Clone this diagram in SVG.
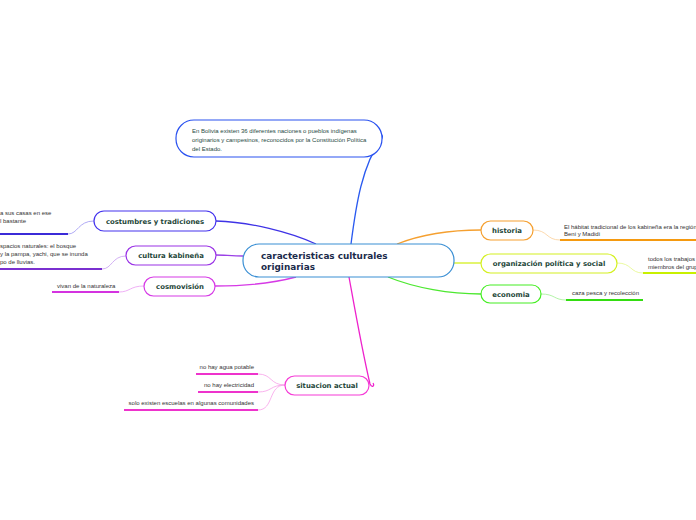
<svg xmlns="http://www.w3.org/2000/svg" width="696" height="520" viewBox="0 0 696 520">
<style>
.node{fill:#fff;stroke-width:1.2}
.t{font-family:"DejaVu Sans",Verdana,sans-serif;font-weight:bold;font-size:6.9px;fill:#1d4638}
.c{font-family:"DejaVu Sans",Verdana,sans-serif;font-weight:bold;font-size:8.9px;fill:#1b2b4b}
.s{font-family:"Liberation Sans",Arial,sans-serif;font-size:6px;fill:#333}
.tp{font-family:"Liberation Sans",Arial,sans-serif;font-size:6px;fill:#1f4a3f}
.l{fill:none;stroke-width:1.3}
.u{fill:none;stroke-width:2}
.th{fill:none;stroke-width:0.8}
</style>
<rect width="696" height="520" fill="#fff"/>
<g id="connectors">
<path class="l" stroke="#2a5af0" d="M351,244 C356,205 362,165 382,138 C384,134 378,132 376,140"/>
<path class="l" stroke="#3f33e6" d="M316,244 C290,232 250,222 216,221"/>
<path class="l" stroke="#9a40e6" d="M243,256 C232,256 224,255 216,255"/>
<path class="l" stroke="#d63ae6" d="M296,277 C270,284 240,286 215,286"/>
<path class="l" stroke="#f5a030" d="M397,244 C420,235 450,230 481,230"/>
<path class="l" stroke="#d4f020" d="M454,263 L481,263"/>
<path class="l" stroke="#4de830" d="M388,277 C415,288 450,294 481,294"/>
<path class="l" stroke="#ee22cc" d="M349,277 C355,310 362,350 370,384 C372,388 375,386 373,383"/>
<path class="th" stroke="#9d96f2" d="M94,221 C78,221 78,234 68,234"/>
<path class="u" stroke="#3b2bd8" d="M0,234 L68,234"/>
<path class="th" stroke="#c79cf0" d="M126,256 C112,256 112,269 102,269"/>
<path class="u" stroke="#7a30d0" d="M0,269 L102,269"/>
<path class="th" stroke="#eb9cf2" d="M144,286 C130,286 130,292 119,292"/>
<path class="u" stroke="#d433e0" d="M52,292 L119,292"/>
<path class="th" stroke="#fbcf98" d="M533,230 C548,230 546,240 560,240"/>
<path class="u" stroke="#f59a10" d="M560,240 L696,240"/>
<path class="th" stroke="#e4f788" d="M617,263 C632,263 630,273 643,273"/>
<path class="u" stroke="#c8f000" d="M643,273 L696,273"/>
<path class="th" stroke="#a0f090" d="M541,294 C555,294 554,300 566,300"/>
<path class="u" stroke="#33dd11" d="M566,300 L643,300"/>
<path class="th" stroke="#f7a0e8" d="M285,385 C270,385 272,374 258,374"/>
<path class="th" stroke="#f7a0e8" d="M285,385 C270,385 272,392 258,392"/>
<path class="th" stroke="#f7a0e8" d="M285,385 C268,385 274,410 258,410"/>
<path class="u" stroke="#ee33cc" d="M196,374 L258,374"/>
<path class="u" stroke="#ee33cc" d="M198,392 L258,392"/>
<path class="u" stroke="#ee33cc" d="M124,410 L258,410"/>
</g>
<g id="center">
<rect class="node" x="243" y="244" width="211" height="33" rx="16" stroke="#3a8fd4"/>
<text class="c" x="261" y="259">caracteristicas culturales</text>
<text class="c" x="261" y="270">originarias</text>
</g>
<g id="estado">
<rect class="node" x="176" y="120" width="206" height="37" rx="18" stroke="#2a52f0"/>
<text class="tp" x="192" y="133">En Bolivia existen 36 diferentes naciones o pueblos indígenas</text>
<text class="tp" x="192" y="142">originarios y campesinos, reconocidos por la Constitución Política</text>
<text class="tp" x="192" y="151">del Estado.</text>
</g>
<g id="costumbres">
<rect class="node" x="94" y="211" width="122" height="20" rx="10" stroke="#4433ee"/>
<text class="t" x="155" y="224" text-anchor="middle">costumbres y tradiciones</text>
<text class="s" x="0" y="215">a sus casas en ese</text>
<text class="s" x="0" y="223">l bastante</text>
</g>
<g id="cultura">
<rect class="node" x="126" y="246" width="90" height="19" rx="9.5" stroke="#9a33e6"/>
<text class="t" x="171" y="258" text-anchor="middle">cultura kabineña</text>
<text class="s" x="0" y="248">spacios naturales: el bosque</text>
<text class="s" x="0" y="256">y la pampa, yachi, que se inunda</text>
<text class="s" x="0" y="264">po de lluvias.</text>
</g>
<g id="cosmovision">
<rect class="node" x="144" y="277" width="71" height="19" rx="9.5" stroke="#d63ae6"/>
<text class="t" x="180" y="289" text-anchor="middle">cosmovisión</text>
<text class="s" x="57" y="288">vivan de la naturaleza</text>
</g>
<g id="historia">
<rect class="node" x="481" y="221" width="52" height="19" rx="9.5" stroke="#f5a030"/>
<text class="t" x="507" y="233" text-anchor="middle">historia</text>
<text class="s" x="564" y="229">El hábitat tradicional de los kabineña era la región</text>
<text class="s" x="564" y="236">Beni y Madidi</text>
</g>
<g id="organizacion">
<rect class="node" x="481" y="254" width="136" height="19" rx="9.5" stroke="#d4f020"/>
<text class="t" x="549" y="266" text-anchor="middle">organización política y social</text>
<text class="s" x="648" y="261">todos los trabajos</text>
<text class="s" x="648" y="269">miembros del grup</text>
</g>
<g id="economia">
<rect class="node" x="481" y="285" width="60" height="18" rx="9" stroke="#44ee22"/>
<text class="t" x="511" y="296.5" text-anchor="middle">economia</text>
<text class="s" x="572" y="295">caza pesca y recolección</text>
</g>
<g id="situacion">
<rect class="node" x="285" y="376" width="84" height="19" rx="9.5" stroke="#f53bd6"/>
<text class="t" x="327" y="388" text-anchor="middle">situacion actual</text>
<text class="s" x="254" y="369" text-anchor="end">no hay agua potable</text>
<text class="s" x="254" y="387" text-anchor="end">no hay electricidad</text>
<text class="s" x="254" y="405" text-anchor="end">solo existen escuelas en algunas comunidades</text>
</g>
</svg>
